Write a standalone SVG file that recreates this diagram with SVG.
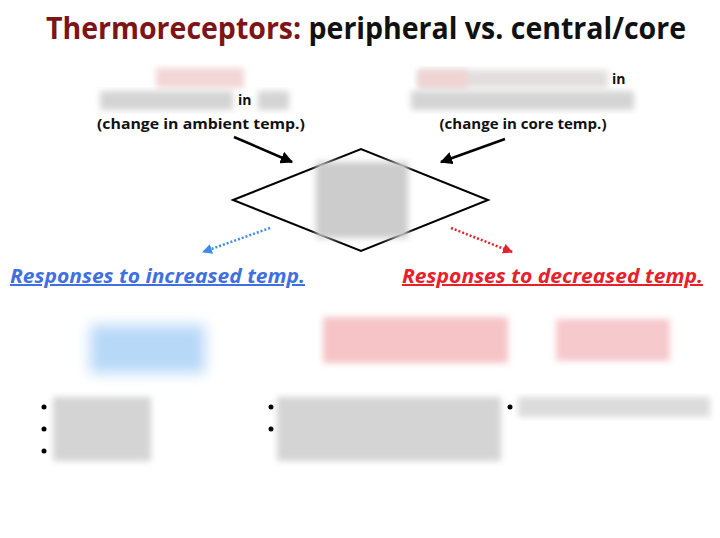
<svg xmlns="http://www.w3.org/2000/svg" width="720" height="538" viewBox="0 0 720 538">
<defs>
<filter id="blur" x="-20%" y="-20%" width="140%" height="140%"><feGaussianBlur stdDeviation="3"/></filter>
<filter id="blur2" x="-30%" y="-30%" width="160%" height="160%"><feGaussianBlur stdDeviation="7"/></filter>
<marker id="ah" viewBox="0 0 10 10" refX="9" refY="5" markerWidth="5" markerHeight="5" orient="auto"><path d="M0,0 L10,5 L0,10 z" fill="#000"/></marker>
<marker id="ahb" viewBox="0 0 10 10" refX="9" refY="5" markerWidth="4" markerHeight="4" orient="auto"><path d="M0,0 L10,5 L0,10 z" fill="#3a8ee6"/></marker>
<marker id="ahr" viewBox="0 0 10 10" refX="9" refY="5" markerWidth="4" markerHeight="4" orient="auto"><path d="M0,0 L10,5 L0,10 z" fill="#e8202a"/></marker>
</defs>
<style>
.t{font-family:"Open Sans","Liberation Sans",sans-serif;font-weight:bold}
.lbl{font-family:"Open Sans","Liberation Sans",sans-serif;font-weight:bold;font-size:14px;fill:#111}
.resp{font-family:"Open Sans","Liberation Sans",sans-serif;font-weight:bold;font-style:italic;font-size:20px;text-decoration:underline}
.gray{fill:#d4d4d4}
.bul{fill:#000}
</style>
<rect width="720" height="538" fill="#fff"/>
<text class="t" x="366" y="39" font-size="30" text-anchor="middle" textLength="640" lengthAdjust="spacingAndGlyphs"><tspan fill="#7d1416">Thermoreceptors:</tspan><tspan fill="#111"> peripheral vs. central/core</tspan></text>

<g id="peripheral">
<rect x="156" y="68" width="88" height="20" fill="#f3d6d6" filter="url(#blur)"/>
<rect x="100" y="91" width="133" height="19" class="gray" filter="url(#blur)"/>
<text class="lbl" x="238" y="105">in</text>
<rect x="258" y="91" width="31" height="19" class="gray" filter="url(#blur)"/>
<text class="lbl" x="201" y="129" text-anchor="middle" textLength="208" lengthAdjust="spacingAndGlyphs">(change in ambient temp.)</text>
</g>

<g id="central">
<rect x="418" y="70" width="190" height="18" fill="#e2dede" filter="url(#blur)"/>
<rect x="418" y="70" width="50" height="18" fill="#f0d4d4" filter="url(#blur)"/>
<text class="lbl" x="612" y="84">in</text>
<rect x="411" y="91" width="223" height="19" class="gray" filter="url(#blur)"/>
<text class="lbl" x="523" y="129" text-anchor="middle" textLength="167" lengthAdjust="spacingAndGlyphs">(change in core temp.)</text>
</g>

<g id="center">
<polygon points="233,200 361,149 488,200 361,251" fill="#fff" stroke="#000" stroke-width="2"/>
<rect x="316" y="162" width="92" height="76" fill="#cccccc" filter="url(#blur)"/>
</g>

<g id="connectors">
<line x1="234" y1="137" x2="292" y2="162" stroke="#000" stroke-width="2.5" marker-end="url(#ah)"/>
<line x1="505" y1="139" x2="441" y2="162" stroke="#000" stroke-width="2.5" marker-end="url(#ah)"/>
<line x1="270" y1="228" x2="203" y2="252" stroke="#3a8ee6" stroke-width="2.5" stroke-dasharray="2,2" marker-end="url(#ahb)"/>
<line x1="451" y1="228" x2="512" y2="252" stroke="#e8202a" stroke-width="2.5" stroke-dasharray="2,2" marker-end="url(#ahr)"/>
</g>

<g id="increased">
<text class="resp" x="10" y="283" fill="#3f6fe0" textLength="295" lengthAdjust="spacingAndGlyphs">Responses to increased temp.</text>
<rect x="90" y="325" width="115" height="48" fill="#b8d8f8" filter="url(#blur2)"/>
<circle cx="44" cy="407" r="2.5" class="bul"/>
<circle cx="44" cy="429" r="2.5" class="bul"/>
<circle cx="44" cy="451" r="2.5" class="bul"/>
<rect x="53" y="397" width="98" height="64" class="gray" filter="url(#blur)"/>
</g>

<g id="decreased">
<text class="resp" x="402" y="283" fill="#e8202a" textLength="301" lengthAdjust="spacingAndGlyphs">Responses to decreased temp.</text>
<rect x="323" y="317" width="185" height="46" fill="#f6c4c6" filter="url(#blur)"/>
<rect x="556" y="319" width="114" height="42" fill="#f6c9cc" filter="url(#blur)"/>
<circle cx="271" cy="407" r="2.5" class="bul"/>
<circle cx="271" cy="429" r="2.5" class="bul"/>
<rect x="277" y="397" width="224" height="64" class="gray" filter="url(#blur)"/>
<circle cx="510" cy="407" r="2.5" class="bul"/>
<rect x="518" y="397" width="192" height="20" fill="#dcdcdc" filter="url(#blur)"/>
</g>
</svg>
